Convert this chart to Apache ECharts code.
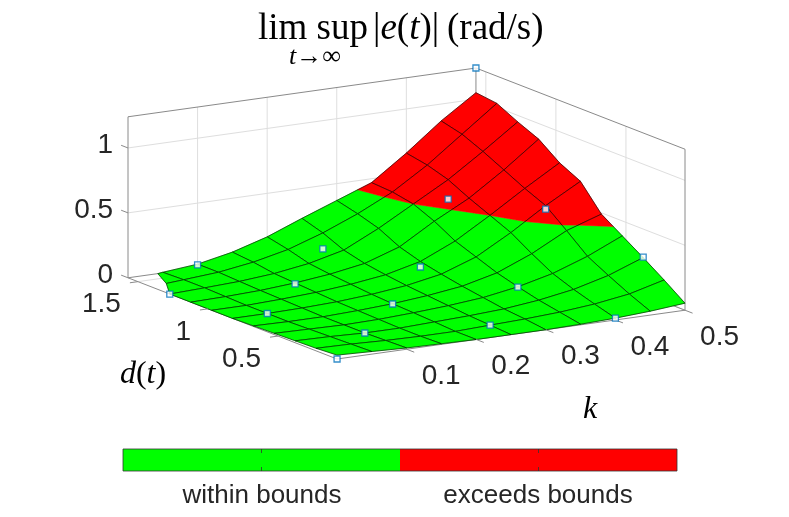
<!DOCTYPE html>
<html lang="en">
<head>
<meta charset="UTF-8">
<title>lim sup |e(t)|</title>
<style>
  html, body { margin: 0; padding: 0; background: #fff; }
  #main { width: 789px; height: 517px; }
</style>
</head>
<body>
<div id="main"></div>
<script src="https://cdn.jsdelivr.net/npm/echarts@6/dist/echarts.min.js"></script>
<script>
// fitted surface: columns follow kValues, rows follow dValues
var kValues = [0, 0.05, 0.1, 0.15, 0.2, 0.25, 0.3, 0.35, 0.4, 0.45, 0.5];
var dValues = [0.0785, 0.2277, 0.3770, 0.5262, 0.6754, 0.8247, 0.9739, 1.1231, 1.2724, 1.4216, 1.5708];
var errRows = [
  [0.03, 0.02, 0.01, 0.005, 0.0, 0.0, 0.0, 0.005, 0.014, 0.03, 0.054],
  [0.02, 0.015, 0.005, 0.0, 0.0, 0.01, 0.02, 0.035, 0.06, 0.10, 0.17],
  [0.015, 0.01, 0.0, 0.0, 0.01, 0.02, 0.035, 0.065, 0.11, 0.18, 0.28],
  [0.01, 0.005, 0.0, 0.005, 0.018, 0.035, 0.06, 0.105, 0.17, 0.265, 0.385],
  [0.005, 0.0, 0.0, 0.01, 0.025, 0.05, 0.085, 0.15, 0.26, 0.40, 0.49],
  [0.0, 0.0, 0.005, 0.015, 0.035, 0.065, 0.115, 0.21, 0.36, 0.53, 0.68],
  [0.0, 0.0, 0.01, 0.025, 0.05, 0.085, 0.15, 0.27, 0.43, 0.60, 0.76],
  [0.0, 0.005, 0.015, 0.035, 0.065, 0.11, 0.20, 0.36, 0.50, 0.68, 0.88],
  [0.0, 0.01, 0.022, 0.045, 0.085, 0.15, 0.28, 0.43, 0.58, 0.76, 0.95],
  [-0.01, 0.01, 0.03, 0.07, 0.13, 0.22, 0.33, 0.46, 0.63, 0.83, 1.03],
  [-0.03, 0.005, 0.03, 0.085, 0.165, 0.27, 0.37, 0.47, 0.66, 0.87, 1.05]
];

// sampled points (small squares)
var markK = [0, 0.1, 0.2, 0.3, 0.4, 0.5, 0, 0.1, 0.05, 0.15, 0.25, 0.25, 0.35, 0.45, 0.4, 0.5];
var markD = [0.0785, 0.3770, 0.6754, 0.9739, 1.2724, 1.5708, 1.2724, 1.5708, 0.8247, 1.1231, 1.4216, 0.2277, 0.5262, 0.8247, 0.0785, 0.3770];
var markErr = [0, 0, 0.023, 0.108, 0.43, 1.24, 0, 0.025, 0, 0.028, 0.097, 0.01, 0.103, 0.503, 0.014, 0.283];

var kTicks = [0.1, 0.2, 0.3, 0.4, 0.5];
var dTicks = [0.5, 1, 1.5];
var zTicks = [0, 0.5, 1];
var bound = 0.43;

var kLim = [0, 0.5], dLim = [0.0785, 1.5708], zLim = [0, 1.24];

// orthographic view, like view(az, el)
var az = -31 * Math.PI / 180, el = 13.5 * Math.PI / 180, zAspect = 0.408;

function norm(k, d, z) {
  return [(k - kLim[0]) / (kLim[1] - kLim[0]),
          (d - dLim[0]) / (dLim[1] - dLim[0]),
          (z - zLim[0]) / (zLim[1] - zLim[0])];
}
function proj(k, d, z) {
  var n = norm(k, d, z);
  return [n[0] * Math.cos(az) + n[1] * Math.sin(az),
          (-n[0] * Math.sin(az) + n[1] * Math.cos(az)) * Math.sin(el) + n[2] * zAspect * Math.cos(el)];
}
function depth(k, d, z) {
  var n = norm(k, d, z);
  return (-n[0] * Math.sin(az) + n[1] * Math.cos(az)) * Math.cos(el) - n[2] * zAspect * Math.sin(el);
}

// keep the part of a polygon above (sign 1) or below (sign -1) a height
function clipLevel(poly, level, sign) {
  var out = [];
  for (var i = 0; i < poly.length; i++) {
    var a = poly[i], b = poly[(i + 1) % poly.length];
    var ain = sign * (a[2] - level) >= 0, bin = sign * (b[2] - level) >= 0;
    if (ain) out.push(a);
    if (ain !== bin) {
      var t = (level - a[2]) / (b[2] - a[2]);
      out.push([a[0] + t * (b[0] - a[0]), a[1] + t * (b[1] - a[1]), level]);
    }
  }
  return out;
}

var faces = [];
for (var j = 0; j < dValues.length - 1; j++) {
  for (var i = 0; i < kValues.length - 1; i++) {
    var c = [[kValues[i], dValues[j], errRows[j][i]],
             [kValues[i + 1], dValues[j], errRows[j][i + 1]],
             [kValues[i + 1], dValues[j + 1], errRows[j + 1][i + 1]],
             [kValues[i], dValues[j + 1], errRows[j + 1][i]]];
    var poly = clipLevel(c, 0, 1);     // the axes clip the surface at z = 0
    if (poly.length < 3) continue;
    var mean = (c[0][2] + c[1][2] + c[2][2] + c[3][2]) / 4;
    faces.push({
      poly: poly,
      red: clipLevel(poly, bound, 1),
      green: clipLevel(poly, bound, -1),
      depth: depth((c[0][0] + c[1][0]) / 2, (c[0][1] + c[3][1]) / 2, mean)
    });
  }
}
faces.sort(function (a, b) { return b.depth - a.depth; });

var xMin = proj(kLim[0], dLim[1], 0)[0], xMax = proj(kLim[1], dLim[0], 0)[0];
var yMax = proj(kLim[1], dLim[1], zLim[1])[1];

var gridColor = '#dedede', boxColor = '#8a8a8a', txtColor = '#262626';

function seg(api, a, b, color) {
  var p = api.coord(proj(a[0], a[1], a[2])), q = api.coord(proj(b[0], b[1], b[2]));
  return { type: 'line', shape: { x1: p[0], y1: p[1], x2: q[0], y2: q[1] },
           style: { stroke: color, lineWidth: 1 } };
}

var k0 = kLim[0], k1 = kLim[1], d0 = dLim[0], d1 = dLim[1], z1 = zLim[1];

function renderFrame(params, api) {
  var ch = [];
  kTicks.forEach(function (k) {
    if (k < k1) ch.push(seg(api, [k, d1, 0], [k, d1, z1], gridColor));
    ch.push(seg(api, [k, d0, 0], [k, d1, 0], gridColor));
  });
  dTicks.forEach(function (d) {
    if (d < d1) ch.push(seg(api, [k1, d, 0], [k1, d, z1], gridColor));
    ch.push(seg(api, [k0, d, 0], [k1, d, 0], gridColor));
  });
  zTicks.forEach(function (z) {
    if (z <= 0) return;
    ch.push(seg(api, [k0, d1, z], [k1, d1, z], gridColor));
    ch.push(seg(api, [k1, d0, z], [k1, d1, z], gridColor));
  });
  [
    [[k0, d1, 0], [k0, d1, z1]], [[k0, d1, z1], [k1, d1, z1]], [[k1, d1, z1], [k1, d0, z1]],
    [[k1, d0, 0], [k1, d0, z1]], [[k1, d1, 0], [k1, d1, z1]], [[k0, d1, 0], [k1, d1, 0]],
    [[k1, d0, 0], [k1, d1, 0]], [[k0, d0, 0], [k1, d0, 0]], [[k0, d0, 0], [k0, d1, 0]]
  ].forEach(function (e) { ch.push(seg(api, e[0], e[1], boxColor)); });
  return { type: 'group', children: ch };
}

function tickText(x, y, text, align) {
  return { type: 'text', x: x, y: y,
           style: { text: text, fill: txtColor, fontSize: 28, fontFamily: 'Liberation Sans, Arial, sans-serif',
                    align: align, textAlign: align, verticalAlign: 'middle', textVerticalAlign: 'middle' } };
}

function renderTicks(params, api) {
  var ch = [];
  var zt = 0.049, dt = 0.0115, kt = 0.054;
  zTicks.forEach(function (z) {
    ch.push(seg(api, [k0, d1, z], [k0, d1 + zt, z], boxColor));
    var p = api.coord(proj(k0, d1 + zt, z));
    ch.push(tickText(p[0] - 8, p[1], String(z), 'right'));
  });
  dTicks.forEach(function (d) {
    ch.push(seg(api, [k0, d, 0], [k0 - dt, d, 0], boxColor));
    var p = api.coord(proj(k0 - dt, d, 0));
    ch.push(tickText(p[0] - 9, p[1] + 22, String(d), 'right'));
  });
  kTicks.forEach(function (k) {
    ch.push(seg(api, [k, d0, 0], [k, d0 - kt, 0], boxColor));
    var p = api.coord(proj(k, d0 - kt, 0));
    ch.push(tickText(p[0] + 27, p[1] + 24, String(k), 'center'));
  });
  return { type: 'group', children: ch };
}

function toPts(api, poly) {
  return poly.map(function (p) { return api.coord(proj(p[0], p[1], p[2])); });
}

function renderFace(params, api) {
  var f = faces[api.value(0)];
  var ch = [];
  if (f.green.length > 2) ch.push({ type: 'polygon', shape: { points: toPts(api, f.green) },
    style: { fill: '#00ff00', stroke: '#00ff00', lineWidth: 0.5 } });
  if (f.red.length > 2) ch.push({ type: 'polygon', shape: { points: toPts(api, f.red) },
    style: { fill: '#ff0000', stroke: '#ff0000', lineWidth: 0.5 } });
  ch.push({ type: 'polygon', shape: { points: toPts(api, f.poly) },
    style: { fill: 'none', stroke: '#000', lineWidth: 0.6 } });
  return { type: 'group', children: ch };
}

var markData = markK.map(function (k, n) { return proj(k, markD[n], markErr[n]); });

var serif = 'Liberation Serif, Times New Roman, serif';
var sans = 'Liberation Sans, Arial, sans-serif';

var chart = echarts.init(document.getElementById('main'));
chart.setOption({
  animation: false,
  backgroundColor: '#fff',
  grid: { left: 128, top: 68, width: 557, height: 291 },
  xAxis: { type: 'value', min: xMin, max: xMax, show: false },
  yAxis: { type: 'value', min: 0, max: yMax, show: false },
  series: [
    { type: 'custom', name: 'frame', silent: true, z: 1, data: [[0, 0]], renderItem: renderFrame },
    { type: 'custom', name: 'surface', silent: true, z: 2,
      data: faces.map(function (f, n) { return [n, 0]; }), renderItem: renderFace },
    { type: 'custom', name: 'ticks', silent: true, z: 3, data: [[0, 0]], renderItem: renderTicks },
    { type: 'scatter', name: 'samples', silent: true, z: 4, data: markData,
      symbol: 'rect', symbolSize: 6,
      itemStyle: { color: '#ffffff', borderColor: '#0072bd', borderWidth: 1.3 } }
  ],
  graphic: [
    { type: 'text', x: 258, y: 29, style: { text: 'lim sup', font: '37px ' + serif, fill: '#000', textVerticalAlign: 'middle', verticalAlign: 'middle' } },
    { type: 'text', x: 373, y: 29, style: { text: '|{i|e}({i|t})|', font: '37px ' + serif, fill: '#000', textVerticalAlign: 'middle', verticalAlign: 'middle',
        rich: { i: { fontStyle: 'italic', fontSize: 37, fontFamily: serif } } } },
    { type: 'text', x: 447, y: 29, style: { text: '(rad/s)', font: '37px ' + serif, fill: '#000', textVerticalAlign: 'middle', verticalAlign: 'middle' } },
    { type: 'text', x: 315, y: 57, style: { text: '{i|t}\u2192\u221e', font: '26px ' + serif, fill: '#000', textAlign: 'center', align: 'center', textVerticalAlign: 'middle', verticalAlign: 'middle',
        rich: { i: { fontStyle: 'italic', fontSize: 26, fontFamily: serif } } } },
    { type: 'text', x: 143, y: 375, style: { text: '{i|d}({i|t})', font: '32px ' + serif, fill: '#000', textAlign: 'center', align: 'center', textVerticalAlign: 'middle', verticalAlign: 'middle',
        rich: { i: { fontStyle: 'italic', fontSize: 32, fontFamily: serif } } } },
    { type: 'text', x: 590, y: 410, style: { text: 'k', font: 'italic 32px ' + serif, fill: '#000', textAlign: 'center', align: 'center', textVerticalAlign: 'middle', verticalAlign: 'middle' } },
    // colour bar
    { type: 'rect', shape: { x: 123, y: 449, width: 277, height: 22 }, style: { fill: '#00ff00' } },
    { type: 'rect', shape: { x: 400, y: 449, width: 277, height: 22 }, style: { fill: '#ff0000' } },
    { type: 'rect', shape: { x: 123, y: 449, width: 554, height: 22 }, style: { fill: 'none', stroke: '#333', lineWidth: 0.8 } },
    { type: 'line', shape: { x1: 261.5, y1: 449, x2: 261.5, y2: 453 }, style: { stroke: '#333', lineWidth: 0.8 } },
    { type: 'line', shape: { x1: 261.5, y1: 471, x2: 261.5, y2: 467 }, style: { stroke: '#333', lineWidth: 0.8 } },
    { type: 'line', shape: { x1: 538.5, y1: 449, x2: 538.5, y2: 453 }, style: { stroke: '#333', lineWidth: 0.8 } },
    { type: 'line', shape: { x1: 538.5, y1: 471, x2: 538.5, y2: 467 }, style: { stroke: '#333', lineWidth: 0.8 } },
    { type: 'text', x: 262, y: 496, style: { text: 'within bounds', font: '26px ' + sans, fill: txtColor, textAlign: 'center', align: 'center', textVerticalAlign: 'middle', verticalAlign: 'middle' } },
    { type: 'text', x: 538, y: 496, style: { text: 'exceeds bounds', font: '26px ' + sans, fill: txtColor, textAlign: 'center', align: 'center', textVerticalAlign: 'middle', verticalAlign: 'middle' } }
  ]
});
</script>
</body>
</html>
